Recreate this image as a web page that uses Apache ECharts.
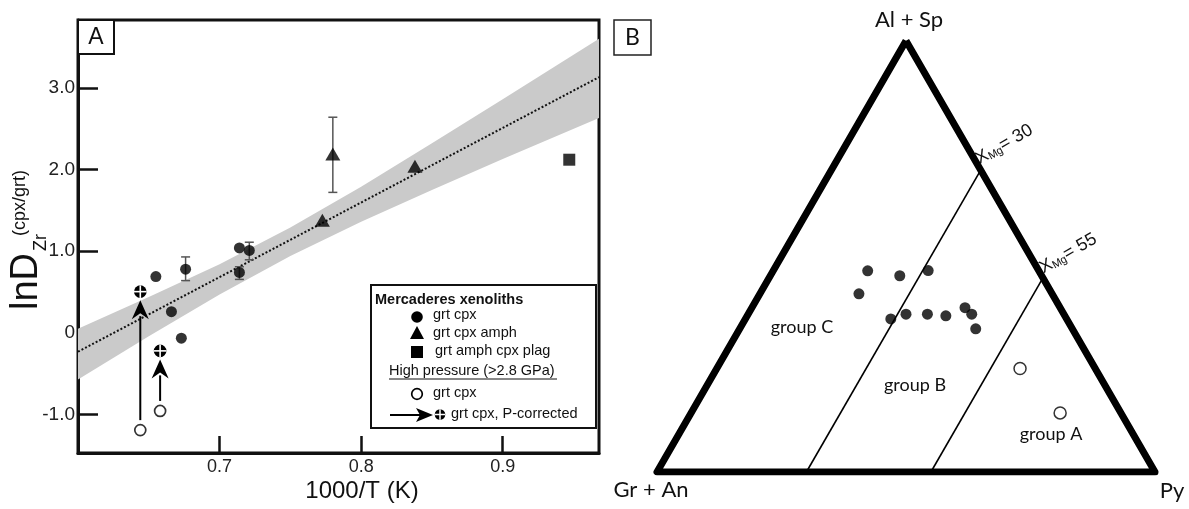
<!DOCTYPE html>
<html><head><meta charset="utf-8">
<script src="https://cdn.jsdelivr.net/npm/echarts@6/dist/echarts.min.js"></script>
<style>html,body{margin:0;padding:0;background:#fff}#c{width:1189px;height:509px}</style>
</head><body><div id="c"></div>
<script>
// ---------- Panel A data: x = 1000/T (K), y = lnD ----------
const grtCpx = [[0.655,0.69],[0.676,0.78],[0.666,0.26],[0.673,-0.065],[0.714,1.04],[0.721,1.01],[0.714,0.74]];
const grtCpxAmph = [[0.7726,1.38],[0.780,2.19],[0.838,2.04]];
const grtAmphCpxPlag = [[0.947,2.12]];
const hpGrtCpx = [[0.644,-1.19],[0.658,-0.955]];
const hpCorrected = [[0.644,0.505],[0.658,-0.22]];
const errorBars = [[0.676,0.64,0.93],[0.721,0.895,1.11],[0.714,0.655,0.81],[0.780,1.72,2.64]];
const fitX = [0.6, 0.968];
const fitY = [-0.23, 3.13];
const bandX = [0.6,0.65,0.7,0.75,0.8,0.85,0.9,0.968];
const bandLow = [-0.57,-0.04,0.47,0.94,1.36,1.75,2.13,2.63];
const bandHigh = [0.05,0.44,0.84,1.29,1.79,2.32,2.86,3.60];
const xTicks = [0.7,0.8,0.9];
const yTicks = [-1,0,1,2,3];

// ---------- Panel B data: ternary [Al+Sp, Gr+An, Py] ----------
const apexAlSp = [100,0,0], apexGrAn = [0,100,0], apexPy = [0,0,100];
const ternFilled = [[46.7,34.4,19.0],[45.5,28.5,26.0],[46.7,22.2,31.1],[41.3,38.8,19.9],[35.5,35.3,29.2],
  [36.6,31.7,31.7],[36.6,27.4,36.0],[36.2,23.9,39.9],[38.1,19.1,42.8],[36.6,18.5,44.9],[33.2,19.4,47.4]];
const ternOpen = [[24.0,15.1,60.9],[13.7,12.2,74.1]];
const xmg30 = [[70,0,30],[0,70,30]];
const xmg55 = [[45,0,55],[0,45,55]];

const S3 = Math.sqrt(3)/2;
function tern(c){ const s=c[0]+c[1]+c[2]; return [(c[2]+c[0]/2)/s, c[0]/s*S3]; }

const chart = echarts.init(document.getElementById('c'));
const HF = 'Liberation Sans, Arial, sans-serif';
const MF = 'Lato, Open Sans, sans-serif';

const series = [
  { type:'custom', xAxisIndex:0, yAxisIndex:0, silent:true, z:1, data:[[bandX[0], bandLow[0]]],
    renderItem:(p,api)=>{
      const pts=[];
      for(let i=0;i<bandX.length;i++) pts.push(api.coord([bandX[i], bandHigh[i]]));
      for(let i=bandX.length-1;i>=0;i--) pts.push(api.coord([bandX[i], bandLow[i]]));
      return {type:'polygon', shape:{points:pts}, style:{fill:'#cacaca'}};
    }},
  { type:'line', xAxisIndex:0, yAxisIndex:0, z:2, symbol:'none', silent:true,
    data: fitX.map((x,i)=>[x,fitY[i]]), lineStyle:{color:'#111', width:2, type:[2,2]} },
  { type:'custom', xAxisIndex:0, yAxisIndex:0, z:3, silent:true, data: errorBars, encode:{x:0,y:[1,2]},
    renderItem:(p,api)=>{
      const x=api.value(0); const lo=api.coord([x,api.value(1)]), hi=api.coord([x,api.value(2)]); const w=4.5;
      const st={stroke:'#555', lineWidth:1.5};
      return {type:'group', children:[
        {type:'line', shape:{x1:lo[0],y1:lo[1],x2:hi[0],y2:hi[1]}, style:st},
        {type:'line', shape:{x1:lo[0]-w,y1:lo[1],x2:lo[0]+w,y2:lo[1]}, style:st},
        {type:'line', shape:{x1:hi[0]-w,y1:hi[1],x2:hi[0]+w,y2:hi[1]}, style:st}]};
    }},
  { type:'scatter', xAxisIndex:0, yAxisIndex:0, z:4, symbol:'circle', symbolSize:11, data:grtCpx, itemStyle:{color:'#000'} },
  { type:'scatter', xAxisIndex:0, yAxisIndex:0, z:4, symbol:'triangle', symbolSize:[15,13], data:grtCpxAmph, itemStyle:{color:'#000'} },
  { type:'scatter', xAxisIndex:0, yAxisIndex:0, z:4, symbol:'rect', symbolSize:12, data:grtAmphCpxPlag, itemStyle:{color:'#000'} },
  { type:'scatter', xAxisIndex:0, yAxisIndex:0, z:4, symbol:'circle', symbolSize:11, data:hpGrtCpx, itemStyle:{color:'#fff', borderColor:'#000', borderWidth:1.7} },
  { type:'custom', xAxisIndex:0, yAxisIndex:0, z:4, silent:true, data: hpGrtCpx.map((d,i)=>[d[0], d[1], hpCorrected[i][1]]), encode:{x:0,y:[1,2]},
    renderItem:(p,api)=>{
      const x=api.value(0); const a=api.coord([x,api.value(1)]), b=api.coord([x,api.value(2)]);
      const y0=a[1]-10, tip=b[1]+8.5, hl=19, hw=8.5;
      return {type:'group', children:[
        {type:'line', shape:{x1:a[0],y1:y0,x2:a[0],y2:tip+hl-3}, style:{stroke:'#000', lineWidth:2}},
        {type:'polygon', shape:{points:[[a[0],tip],[a[0]-hw,tip+hl],[a[0],tip+hl-6],[a[0]+hw,tip+hl]]}, style:{fill:'#000'}}]};
    }},
  { type:'custom', xAxisIndex:0, yAxisIndex:0, z:5, silent:true, data: hpCorrected,
    renderItem:(p,api)=>{
      const c=api.coord([api.value(0),api.value(1)]); const r=6.3;
      return {type:'group', children:[
        {type:'circle', shape:{cx:c[0],cy:c[1],r:r}, style:{fill:'#000'}},
        {type:'line', shape:{x1:c[0]-r,y1:c[1],x2:c[0]+r,y2:c[1]}, style:{stroke:'#fff', lineWidth:1.6}},
        {type:'line', shape:{x1:c[0],y1:c[1]-r,x2:c[0],y2:c[1]+r}, style:{stroke:'#fff', lineWidth:1.6}}]};
    }},
  // Panel B
  { type:'line', xAxisIndex:1, yAxisIndex:1, symbol:'none', silent:true, z:3,
    data:[apexAlSp, apexGrAn, apexPy, apexAlSp].map(tern), lineStyle:{color:'#000', width:7, join:'round'} },
  { type:'line', xAxisIndex:1, yAxisIndex:1, symbol:'none', silent:true, z:2, data: xmg30.map(tern), lineStyle:{color:'#000', width:1.6} },
  { type:'line', xAxisIndex:1, yAxisIndex:1, symbol:'none', silent:true, z:2, data: xmg55.map(tern), lineStyle:{color:'#000', width:1.6} },
  { type:'scatter', xAxisIndex:1, yAxisIndex:1, z:4, symbol:'circle', symbolSize:11, data: ternFilled.map(tern), itemStyle:{color:'#000'} },
  { type:'scatter', xAxisIndex:1, yAxisIndex:1, z:4, symbol:'circle', symbolSize:12, data: ternOpen.map(tern), itemStyle:{color:'#fff', borderColor:'#000', borderWidth:1.5} }
];

function t(x,y,text,size,opts){ return Object.assign({type:'text', x:x, y:y, z:100, style:Object.assign({text:text, fontSize:size, fontFamily:HF, fill:'#111', align:'left', verticalAlign:'middle'}, opts||{})}); }

const LX = 417;
const xmgRich = {a:{fontSize:18, fontFamily:HF, fill:'#111', padding:[0,0,7,0]}, b:{fontSize:11, fontFamily:HF, fill:'#111'}};
const graphic = [
  // panel A label box
  {type:'rect', z:100, shape:{x:78,y:20,width:36,height:34}, style:{fill:'#fff', stroke:'#111', lineWidth:2}},
  t(96,38,'A',23,{align:'center'}),
  // panel B label box
  {type:'rect', z:100, shape:{x:614,y:20,width:37,height:35}, style:{fill:'#fff', stroke:'#222', lineWidth:1.5}},
  t(632.5,38,'B',23,{align:'center', fontFamily:MF}),
  // axis titles A
  t(362,491,'1000/T (K)',24,{align:'center'}),
  Object.assign(t(27,253,'lnD',38,{align:'right'}), {rotation:Math.PI/2}),
  Object.assign(t(41,251,'Zr',18), {rotation:Math.PI/2}),
  Object.assign(t(20,236,'(cpx/grt)',18), {rotation:Math.PI/2}),
  // legend
  {type:'rect', z:100, shape:{x:371,y:285,width:225,height:143}, style:{fill:'#fff', stroke:'#111', lineWidth:2}},
  t(375,300,'Mercaderes xenoliths',14.5,{fontWeight:'bold'}),
  {type:'circle', z:101, shape:{cx:LX,cy:317,r:5.8}, style:{fill:'#000'}},
  t(433,314.5,'grt cpx',14.5),
  {type:'polygon', z:101, shape:{points:[[LX,326],[LX-7,339],[LX+7,339]]}, style:{fill:'#000'}},
  t(433,333,'grt cpx amph',14.5),
  {type:'rect', z:101, shape:{x:LX-6,y:346,width:12,height:12}, style:{fill:'#000'}},
  t(435,351,'grt amph cpx plag',14.5),
  t(389,371,'High pressure (>2.8 GPa)',14.5),
  {type:'line', z:101, shape:{x1:389,y1:379,x2:557,y2:379}, style:{stroke:'#111', lineWidth:1}},
  {type:'circle', z:101, shape:{cx:LX,cy:394,r:5.3}, style:{fill:'#fff', stroke:'#000', lineWidth:1.7}},
  t(433,393,'grt cpx',14.5),
  {type:'line', z:101, shape:{x1:390,y1:415,x2:425,y2:415}, style:{stroke:'#000', lineWidth:2}},
  {type:'polygon', z:101, shape:{points:[[433,415],[416,408],[420,415],[416,422]]}, style:{fill:'#000'}},
  {type:'circle', z:101, shape:{cx:440,cy:414.5,r:5.3}, style:{fill:'#000'}},
  {type:'line', z:102, shape:{x1:434.7,y1:414.5,x2:445.3,y2:414.5}, style:{stroke:'#fff', lineWidth:1.5}},
  {type:'line', z:102, shape:{x1:440,y1:409.2,x2:440,y2:419.8}, style:{stroke:'#fff', lineWidth:1.5}},
  t(451,414,'grt cpx, P-corrected',14.5),
  // ternary labels
  t(909,20,'Al + Sp',22,{align:'center', fontFamily:MF}),
  t(651,490,'Gr + An',22,{align:'center', fontFamily:MF}),
  t(1172,491,'Py',22,{align:'center', fontFamily:MF}),
  t(802,327,'group C',18,{align:'center', fontFamily:MF}),
  t(915,385,'group B',18,{align:'center', fontFamily:MF}),
  t(1051,434,'group A',18,{align:'center', fontFamily:MF}),
  {type:'text', z:100, x:985, y:174, rotation:Math.PI/6, style:{text:'{a|X}{b|Mg}{a|= 30}', align:'left', verticalAlign:'bottom', rich:xmgRich}},
  {type:'text', z:100, x:1049, y:283, rotation:Math.PI/6, style:{text:'{a|X}{b|Mg}{a|= 55}', align:'left', verticalAlign:'bottom', rich:xmgRich}}
];

chart.setOption({
  animation:false,
  backgroundColor:'#fff',
  grid:[
    {left:78, top:20, width:521, height:433, show:true, borderColor:'#111', borderWidth:3, containLabel:false},
    {left:657, top:40.7, width:498, height:431.3, show:false}
  ],
  xAxis:[
    {type:'value', gridIndex:0, min:0.6, max:0.968, splitLine:{show:false},
     axisLine:{show:true, onZero:false, lineStyle:{color:'#111', width:3}},
     axisTick:{show:true, inside:true, length:17, customValues:xTicks, lineStyle:{color:'#111', width:2.5}},
     axisLabel:{customValues:xTicks, fontSize:18, fontFamily:HF, color:'#222', margin:5, formatter:v=>v.toFixed(1)}},
    {type:'value', gridIndex:1, min:0, max:1, show:false}
  ],
  yAxis:[
    {type:'value', gridIndex:0, min:-1.47, max:3.83, splitLine:{show:false},
     axisLine:{show:true, onZero:false, lineStyle:{color:'#111', width:3}},
     axisTick:{show:true, inside:true, length:20, customValues:yTicks, lineStyle:{color:'#111', width:2.5}},
     axisLabel:{customValues:yTicks, fontSize:19, fontFamily:HF, color:'#222', margin:3, formatter:v=>v===0?'0':v.toFixed(1)}},
    {type:'value', gridIndex:1, min:0, max:S3, show:false}
  ],
  series: series,
  graphic: graphic
});
</script></body></html>
